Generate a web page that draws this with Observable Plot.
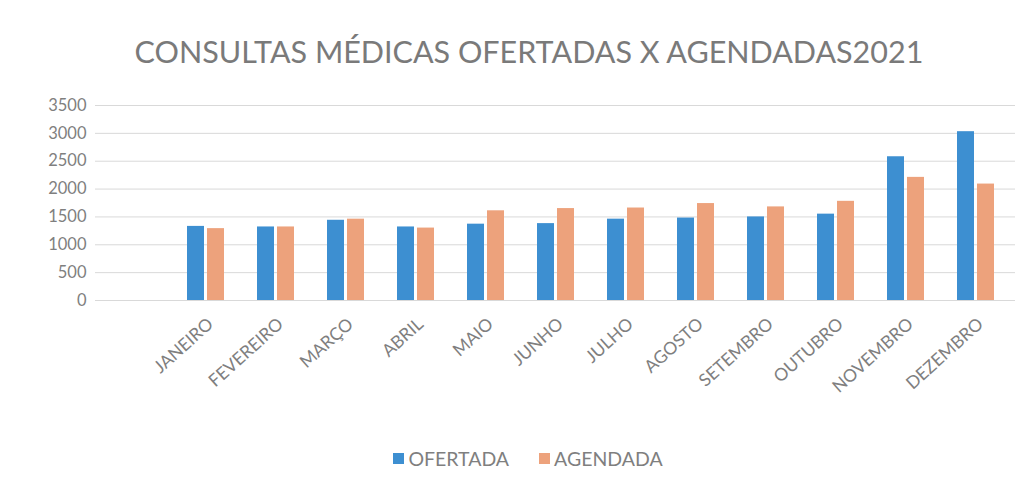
<!DOCTYPE html>
<html>
<head>
<meta charset="utf-8">
<script src="https://cdn.jsdelivr.net/npm/d3@7"></script>
<script src="https://cdn.jsdelivr.net/npm/@observablehq/plot@0.6"></script>
<style>
  html, body { margin: 0; padding: 0; background: #fff; }
  #wrap { width: 1032px; height: 491px; position: relative; overflow: hidden; font-family: Lato, sans-serif; }
  #title { height: 95px; box-sizing: border-box; padding-top: 33px; text-align: center; font-size: 30.5px; color: #7a7a7a; line-height: 36px; padding-left: 26px; white-space: nowrap; }
  #legend { display: flex; justify-content: center; align-items: center; gap: 0; font-size: 19.5px; color: #7f7f7f; margin-top: 17px; padding-left: 24px; }
  .sw { display: inline-block; width: 11px; height: 11px; margin-right: 4px; }
  .item { display: flex; align-items: center; margin: 0 15px; }
</style>
</head>
<body>
<div id="wrap">
  <div id="title">CONSULTAS MÉDICAS OFERTADAS X AGENDADAS2021</div>
  <div id="chart"></div>
  <div id="legend"></div>
</div>
<script>
const months = ["JANEIRO","FEVEREIRO","MARÇO","ABRIL","MAIO","JUNHO","JULHO","AGOSTO","SETEMBRO","OUTUBRO","NOVEMBRO","DEZEMBRO"];
const ofertada = [1330, 1320, 1440, 1320, 1370, 1380, 1460, 1480, 1500, 1550, 2580, 3030];
const agendada = [1290, 1320, 1460, 1300, 1610, 1650, 1660, 1740, 1680, 1780, 2210, 2090];
const seriesNames = ["OFERTADA", "AGENDADA"];
const seriesColors = ["#3d8fd1", "#eda27c"];
const yTicks = [0, 500, 1000, 1500, 2000, 2500, 3000, 3500];

const dataOf = months.map((m, i) => ({month: m, value: ofertada[i]}));
const dataAg = months.map((m, i) => ({month: m, value: agendada[i]}));

const chart = Plot.plot({
  width: 1032,
  height: 335,
  marginTop: 10,
  marginBottom: 130,
  marginLeft: 95,
  marginRight: 17,
  style: { fontFamily: "Lato, sans-serif", background: "#fff" },
  x: { domain: ["", ...months], paddingInner: 0.76, paddingOuter: 0.38, label: null, axis: null },
  y: { domain: [0, 3500], ticks: yTicks, label: null },
  marks: [
    Plot.ruleY(yTicks, { stroke: "#d9d9d9", strokeWidth: 1 }),
    Plot.barY(dataOf, { x: "month", y: "value", fill: seriesColors[0], dx: -10 }),
    Plot.barY(dataAg, { x: "month", y: "value", fill: seriesColors[1], dx: 10 }),
    Plot.axisY({ ticks: yTicks, tickFormat: d => String(d), tickSize: 0, tickPadding: 9, fontSize: 16.5, fill: "#7f7f7f", label: null }),
    Plot.text(months, { x: d => d, frameAnchor: "bottom", rotate: -42, textAnchor: "end", lineAnchor: "top", dy: 16, dx: 0, fontSize: 17.5, fill: "#7f7f7f" })
  ]
});
document.getElementById("chart").appendChild(chart);

const legend = document.getElementById("legend");
seriesNames.forEach((n, i) => {
  const it = document.createElement("div");
  it.className = "item";
  const sw = document.createElement("span");
  sw.className = "sw";
  sw.style.background = seriesColors[i];
  it.appendChild(sw);
  it.appendChild(document.createTextNode(n));
  legend.appendChild(it);
});
</script>
</body>
</html>
